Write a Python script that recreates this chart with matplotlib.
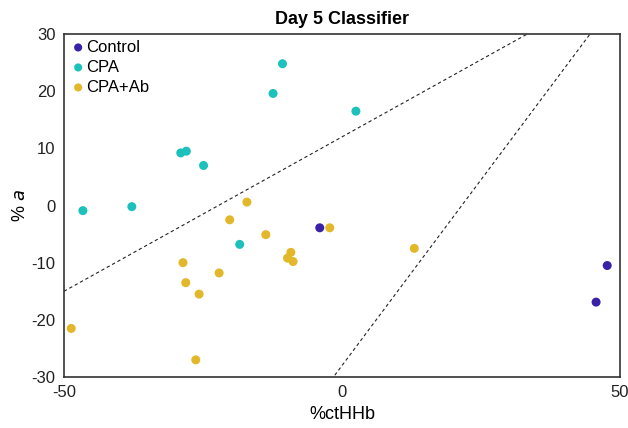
import numpy as np
import matplotlib
matplotlib.use("Agg")
import matplotlib.pyplot as plt

plt.rcParams['font.family'] = ['Liberation Sans', 'DejaVu Sans']
plt.rcParams['axes.unicode_minus'] = False

# data
control_x = [-4.0, 47.7, 45.7]
control_y = [-3.9, -10.5, -16.9]

cpa_x = [-46.6, -37.8, -29.0, -28.0, -24.9, -12.4, -10.7, 2.5, -18.4]
cpa_y = [-0.9, -0.2, 9.2, 9.5, 7.0, 19.6, 24.8, 16.5, -6.8]

cpaab_x = [-17.1, -20.2, -13.7, -2.2, 13.0, -9.2, -9.8, -8.8,
           -28.6, -22.1, -28.1, -25.7, -48.7, -26.3]
cpaab_y = [0.6, -2.5, -5.1, -3.9, -7.5, -8.2, -9.2, -9.8,
           -10.0, -11.8, -13.5, -15.5, -21.5, -27.0]

# classifier boundaries: slope, intercept
boundary_slope = [0.54, 1.30]
boundary_icpt = [12.0, -28.0]

groups = ['Control', 'CPA', 'CPA+Ab']
colors = ['#3a22a8', '#1cc1bc', '#e2b82a']

fig = plt.figure(figsize=(6.28, 4.28), dpi=100)
ax = fig.add_axes([64 / 628, 1 - 377 / 428, 556 / 628, 343 / 428])

xs = np.linspace(-50, 50, 200)
for m, b in zip(boundary_slope, boundary_icpt):
    ax.plot(xs, m * xs + b, ls=(0, (3, 2.5)), color='#222222', lw=0.8, zorder=1)

for gx, gy, lab, c in zip([control_x, cpa_x, cpaab_x], [control_y, cpa_y, cpaab_y],
                          groups, colors):
    ax.scatter(gx, gy, s=42, color=c, label=lab, edgecolors='none', zorder=3)

ax.set_xlim(-50, 50)
ax.set_ylim(-30, 30)
ax.set_xticks([-50, 0, 50])
ax.set_yticks(np.arange(-30, 31, 10))
ax.tick_params(length=0, labelsize=12, pad=6, colors='#222222')
for s in ax.spines.values():
    s.set_color('#333333')
    s.set_linewidth(1.2)

ax.set_xlabel('%ctHHb', fontsize=13, labelpad=4)
ax.set_ylabel('% $\\mathit{a}$', fontsize=13, labelpad=2)
ax.set_title('Day 5 Classifier', fontsize=13, fontweight='bold', pad=7)

leg = ax.legend(loc='upper left', frameon=False, fontsize=12, handletextpad=0.0,
                handlelength=1.0, borderaxespad=0.1, labelspacing=0.3,
                markerscale=0.9, borderpad=0.25)

fig.savefig('out.png', dpi=100)
